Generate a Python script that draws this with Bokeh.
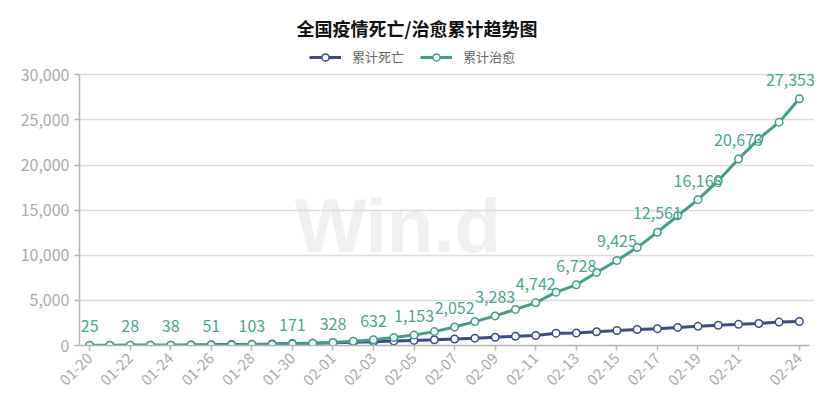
import math
from bokeh.plotting import figure
from bokeh.models import (ColumnDataSource, Range1d, FixedTicker, NumeralTickFormatter,
                          Legend, LegendItem, LabelSet, Label)
from bokeh.core.properties import value
from bokeh.embed import file_html
from bokeh.resources import INLINE

dates = ["01-20", "01-21", "01-22", "01-23", "01-24", "01-25", "01-26", "01-27", "01-28",
         "01-29", "01-30", "01-31", "02-01", "02-02", "02-03", "02-04", "02-05", "02-06",
         "02-07", "02-08", "02-09", "02-10", "02-11", "02-12", "02-13", "02-14", "02-15",
         "02-16", "02-17", "02-18", "02-19", "02-20", "02-21", "02-22", "02-23", "02-24"]
deaths = [6, 9, 17, 25, 41, 56, 80, 106, 132, 170, 213, 259, 304, 361, 425, 491, 564, 637,
          723, 812, 909, 1017, 1114, 1368, 1381, 1524, 1666, 1772, 1870, 2006, 2121, 2239,
          2348, 2445, 2595, 2666]
cured = [25, 25, 28, 34, 38, 49, 51, 60, 103, 124, 171, 243, 328, 475, 632, 892, 1153, 1540,
         2052, 2651, 3283, 3998, 4742, 5915, 6728, 8101, 9425, 10853, 12561, 14387, 16168,
         18278, 20673, 22907, 24757, 27353]
tick_idx = [0, 2, 4, 6, 8, 10, 12, 14, 16, 18, 20, 22, 24, 26, 28, 30, 32, 35]
label_idx = [0, 2, 4, 6, 8, 10, 12, 14, 16, 18, 20, 22, 24, 26, 28, 30, 32, 35]
y_ticks = [0, 5000, 10000, 15000, 20000, 25000, 30000]

title_text = "全国疫情死亡/治愈累计趋势图"
name_death = "累计死亡"
name_cure = "累计治愈"

C_DEATH = "#3d4a8c"
C_CURE = "#3fa08a"
C_LABEL = "#4aa58f"
GRAY = "#ababab"
FONT = "Noto Sans CJK SC"

n = len(dates)
Y_MAX = y_ticks[-1]
FRAME_TOP, FRAME_BOTTOM, TOP_GRID = 44, 348, 74.7
y_hi = Y_MAX * (FRAME_BOTTOM - FRAME_TOP) / (FRAME_BOTTOM - TOP_GRID)
band = (809 - 79) / n
x_hi = -0.5 + (814 - 79) / band

xs = list(range(n))
src = ColumnDataSource(dict(x=xs, d=deaths, c=cured))
lab = ColumnDataSource(dict(x=[xs[i] for i in label_idx], y=[cured[i] for i in label_idx],
                            t=[f"{cured[i]:,}" for i in label_idx],
                            dx=[0 if i != n - 1 else -9 for i in label_idx]))

p = figure(width=814, height=393, output_backend="svg", toolbar_location=None,
           x_range=Range1d(-0.5, x_hi), y_range=Range1d(0, y_hi),
           min_border_left=79, min_border_right=0, min_border_bottom=45, min_border_top=FRAME_TOP)
p.outline_line_color = None
p.background_fill_color = "white"
p.border_fill_color = "white"

p.title.text = title_text
p.title.align = "left"
p.title.offset = 217
p.title.text_font = FONT
p.title.text_font_size = "18px"
p.title.text_font_style = "bold"
p.title.text_color = "#111111"
p.title.standoff = 8

wm = Label(x=15.2, y=13300, text="Win.d", text_font="Liberation Sans", text_font_size="76px",
           text_font_style="bold", text_color="#f0f0f0", text_align="center",
           text_baseline="alphabetic", level="image")
p.add_layout(wm)

p.xgrid.grid_line_color = None
p.ygrid.grid_line_color = "#dcdcdc"
p.ygrid.grid_line_width = 1.5

p.xaxis.ticker = FixedTicker(ticks=tick_idx)
p.xaxis.major_label_overrides = {i: dates[i] for i in tick_idx}
p.xaxis.major_label_orientation = math.pi / 4
p.xaxis.bounds = (-0.5, n - 0.5)
p.yaxis.ticker = FixedTicker(ticks=y_ticks)
p.yaxis.formatter = NumeralTickFormatter(format="0,0")
p.yaxis.bounds = (0, Y_MAX)
for ax in (p.xaxis, p.yaxis):
    ax.axis_line_color = "#b5b5b5"
    ax.axis_line_width = 1.5
    ax.major_tick_line_color = "#b5b5b5"
    ax.major_tick_line_width = 1.5
    ax.major_tick_in = 0
    ax.major_tick_out = 5
    ax.minor_tick_line_color = None
    ax.major_label_text_color = GRAY
    ax.major_label_text_font = FONT
    ax.major_label_text_font_size = "15px"
p.yaxis.major_label_text_font_size = "16px"

l1 = p.line("x", "d", source=src, line_color=C_DEATH, line_width=3)
s1 = p.scatter("x", "d", source=src, size=7.5, fill_color="white", line_color=C_DEATH, line_width=1.5)
l2 = p.line("x", "c", source=src, line_color=C_CURE, line_width=3)
s2 = p.scatter("x", "c", source=src, size=7.5, fill_color="white", line_color=C_CURE, line_width=1.5)

labels = LabelSet(x="x", y="y", text="t", source=lab, text_align="center", text_baseline="bottom",
                  x_offset="dx", y_offset=13, text_font=value(FONT), text_font_size="16px",
                  text_color=C_LABEL)
p.add_layout(labels)

legend = Legend(items=[LegendItem(label=name_death, renderers=[l1, s1]),
                       LegendItem(label=name_cure, renderers=[l2, s2])],
                orientation="horizontal", location=(230, 279), border_line_color=None,
                background_fill_alpha=0, label_standoff=11,
                label_text_font=FONT, label_text_font_size="13px", label_text_color="#666666",
                glyph_width=32, glyph_height=18, spacing=16, padding=2, margin=0)
p.add_layout(legend)

open("out.html", "w").write(file_html(p, INLINE))
